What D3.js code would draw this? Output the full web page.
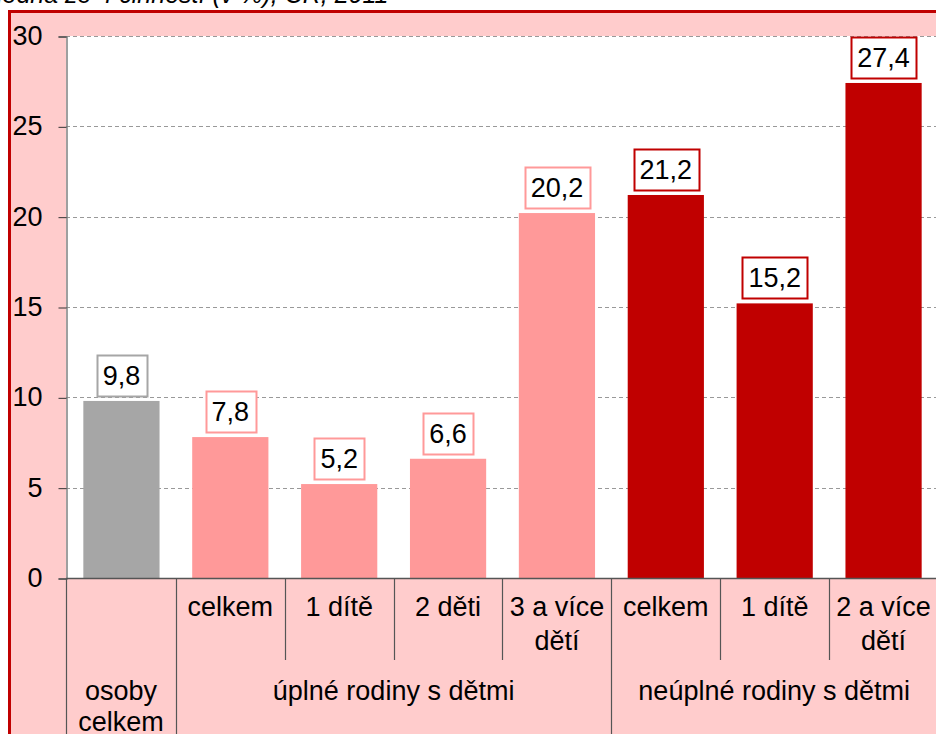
<!DOCTYPE html>
<html>
<head>
<meta charset="utf-8">
<script src="https://cdn.jsdelivr.net/npm/d3@7"></script>
<style>
  body { margin: 0; background: #fff; overflow: hidden; }
  text { font-family: "Liberation Sans", Arial, sans-serif; }
</style>
</head>
<body>
<script>
// data
var values = [9.8, 7.8, 5.2, 6.6, 20.2, 21.2, 15.2, 27.4];
var categories = [[], ["celkem"], ["1 dítě"], ["2 děti"], ["3 a více", "dětí"],
                  ["celkem"], ["1 dítě"], ["2 a více", "dětí"]];
var series = [0, 1, 1, 1, 1, 2, 2, 2];   // which group each bar belongs to
var groups = [
  {name: ["osoby", "celkem"], from: 0, to: 0},
  {name: ["úplné rodiny s dětmi"], from: 1, to: 4},
  {name: ["neúplné rodiny s dětmi"], from: 5, to: 7}
];
var yTicks = [0, 5, 10, 15, 20, 25, 30];

var colors = ["#A6A6A6", "#FF9999", "#C00000"];

var W = 936, H = 734;
var FS = 27;
var plot = {left: 66, right: 937, top: 36, bottom: 578};

var svg = d3.select("body").append("svg")
    .attr("width", W)
    .attr("height", H);

// cut-off title line
svg.append("text")
    .attr("x", -3)
    .attr("y", 3)
    .attr("font-size", 25)
    .attr("font-style", "italic")
    .attr("fill", "#000")
    .text("jedna ze 4 činností (v %), ČR, 2011");

// outer frame
svg.append("rect")
    .attr("x", 9.5)
    .attr("y", 11.5)
    .attr("width", 1000)
    .attr("height", 800)
    .attr("fill", "#FFCCCC")
    .attr("stroke", "#C00000")
    .attr("stroke-width", 3);

// plot area
svg.append("rect")
    .attr("x", plot.left)
    .attr("y", plot.top)
    .attr("width", plot.right - plot.left)
    .attr("height", plot.bottom - plot.top)
    .attr("fill", "#fff");

// scales
var x = d3.scaleBand()
    .domain(d3.range(values.length))
    .range([plot.left, plot.right])
    .paddingInner(0.3)
    .paddingOuter(0.15);
var y = d3.scaleLinear().domain([0, 30]).range([plot.bottom, plot.top]);

// gridlines
svg.append("g")
  .selectAll("line")
  .data(yTicks.filter(function(d) { return d > 0; }))
  .enter().append("line")
    .attr("x1", plot.left)
    .attr("x2", plot.right)
    .attr("y1", function(d) { return Math.round(y(d)) + 0.5; })
    .attr("y2", function(d) { return Math.round(y(d)) + 0.5; })
    .attr("stroke", "#999")
    .attr("stroke-dasharray", "4,3");

// Y axis
var yAxis = svg.append("g")
    .attr("transform", "translate(" + (plot.left + 0.5) + ",0.5)")
    .call(d3.axisLeft(y).tickValues(yTicks).tickSize(8).tickPadding(16));
yAxis.select(".domain").attr("stroke", "#808080").attr("stroke-width", 1.5);
yAxis.selectAll(".tick line").attr("stroke", "#333");
yAxis.selectAll(".tick text")
    .attr("font-size", FS)
    .attr("font-family", "Liberation Sans, Arial, sans-serif")
    .attr("fill", "#000")
    .attr("dy", "0.3em");

// bars
svg.append("g")
  .selectAll("rect")
  .data(values)
  .enter().append("rect")
    .attr("x", function(d, i) { return x(i) + 1; })
    .attr("width", x.bandwidth())
    .attr("y", function(d) { return y(d); })
    .attr("height", function(d) { return y(0) - y(d); })
    .attr("fill", function(d, i) { return colors[series[i]]; });

// value labels in boxes
var lab = svg.append("g")
  .selectAll("g")
  .data(values)
  .enter().append("g");
lab.append("text")
    .attr("x", function(d, i) { return x(i) + 1 + x.bandwidth() / 2; })
    .attr("y", function(d) { return y(d) - 16; })
    .attr("text-anchor", "middle")
    .attr("font-size", FS)
    .attr("fill", "#000")
    .text(function(d) { return String(d).replace(".", ","); });
lab.each(function(d, i) {
  var g = d3.select(this);
  var bb = g.select("text").node().getBBox();
  g.insert("rect", "text")
      .attr("x", Math.round(bb.x - 6) + 0.5)
      .attr("y", Math.round(y(d) - 46) + 0.5)
      .attr("width", Math.round(bb.width + 12))
      .attr("height", 41)
      .attr("fill", "#fff")
      .attr("stroke", colors[series[i]])
      .attr("stroke-width", 2);
});

// axis baseline
svg.append("line")
    .attr("x1", plot.left)
    .attr("x2", plot.right)
    .attr("y1", plot.bottom + 0.5)
    .attr("y2", plot.bottom + 0.5)
    .attr("stroke", "#555")
    .attr("stroke-width", 1.5);

// category dividers below the axis
var step = x.step();
function boundary(i) { return x(i) - step * x.paddingInner() / 2 + 1; }
var groupStarts = groups.map(function(g) { return g.from; });
var dividers = d3.range(values.length);
svg.append("g")
  .selectAll("line")
  .data(dividers)
  .enter().append("line")
    .attr("x1", function(i) { return i === 0 ? plot.left + 0.5 : Math.round(boundary(i)) + 0.5; })
    .attr("x2", function(i) { return i === 0 ? plot.left + 0.5 : Math.round(boundary(i)) + 0.5; })
    .attr("y1", plot.bottom)
    .attr("y2", function(i) { return groupStarts.indexOf(i) >= 0 ? H : 660; })
    .attr("stroke", "#555")
    .attr("stroke-width", 1.2);

// category labels
svg.append("g")
  .selectAll("text")
  .data(categories)
  .enter().append("text")
    .attr("x", function(d, i) { return x(i) + 1 + x.bandwidth() / 2; })
    .attr("y", 616)
    .attr("text-anchor", "middle")
    .attr("font-size", FS)
    .attr("fill", "#000")
  .selectAll("tspan")
  .data(function(d) { return d; })
  .enter().append("tspan")
    .attr("x", function() { return d3.select(this.parentNode).attr("x"); })
    .attr("dy", function(d, j) { return j === 0 ? 0 : 34; })
    .text(function(d) { return d; });

// group labels
svg.append("g")
  .selectAll("text")
  .data(groups)
  .enter().append("text")
    .attr("x", function(g) {
      var a = g.from === 0 ? plot.left : boundary(g.from);
      var b = g.to === values.length - 1 ? plot.right : boundary(g.to + 1);
      return (a + b) / 2;
    })
    .attr("y", 700)
    .attr("text-anchor", "middle")
    .attr("font-size", FS)
    .attr("fill", "#000")
  .selectAll("tspan")
  .data(function(g) { return g.name; })
  .enter().append("tspan")
    .attr("x", function() { return d3.select(this.parentNode).attr("x"); })
    .attr("dy", function(d, j) { return j === 0 ? 0 : 31; })
    .text(function(d) { return d; });
</script>
</body>
</html>
